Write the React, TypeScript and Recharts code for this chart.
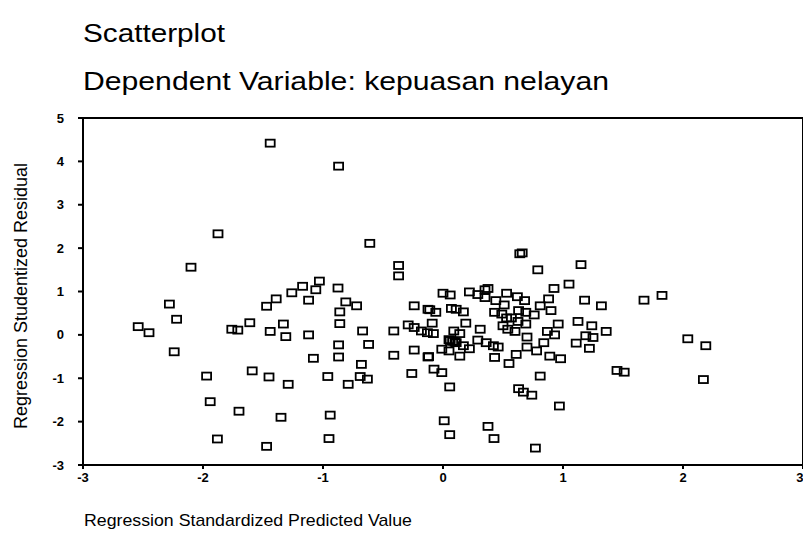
import { ScatterChart, Scatter, XAxis, YAxis, ReferenceLine } from 'recharts'

const xTicks = [-3, -2, -1, 0, 1, 2, 3]
const yTicks = [-3, -2, -1, 0, 1, 2, 3, 4, 5]

// Regression Standardized Predicted Value
const predicted = [
  -1.44, -0.87, -1.875, -2.1, -0.61, -0.37, -0.37, 0.64, 0.66, 1.15, 0.79,
  -2.28, -2.22, -2.54, -2.45, -2.24, -1.76, -1.71, -1.61, -1.59, -1.97, -1.94, -1.7, -1.88,
  -1.03, -1.17, -1.06, -0.875, -1.26, -1.39, -1.47, -1.12, -0.81, -0.72, -0.86, -0.24, -0.125,
  -1.33, -1.44, -1.31, -1.12, -0.86, -0.67, -0.41, -0.29, -0.24, -0.18, -0.87, -0.62,
  -1.08, -0.87, -0.41, -0.24, -0.125, -0.68, -1.45, -1.29, -0.96, -0.79, -0.69, -0.63, -0.26,
  -1.35, -0.94, -1.47, -0.95,
  1.05, 0.925, 0.375, 0.35, 0.22, 0.0, 0.06, 0.29, 0.35, 0.53, 0.62, 0.68, 0.44, 0.51, 0.88, 1.18,
  0.81, 0.9, -0.11, -0.06, 0.07, 0.11, 0.17, 0.43, 0.49, 0.63, 0.69, 0.76, 0.53, 0.57, 0.625, 0.69,
  0.5, 0.54, 0.6, 0.96, 1.125, 1.24, -0.09, 0.19, 0.31, -0.13, -0.08, 0.09, 0.14,
  0.06, 0.08, 0.1, 0.05, 0.11, 0.17, 0.29, 0.36, 0.42, 0.46, 0.22, -0.01, 0.05, 0.14, -0.12,
  0.43, 0.61, 0.55, 0.7, 0.7, 0.78, 0.84, 0.89, 0.98, 0.87, 0.93, 1.11, 1.19, 1.22,
  -0.075, -0.01, 0.056, 0.81, 0.63, 0.67, 0.74, 0.97, 0.01, 0.056, 0.375, 0.425, 0.77,
  1.32, 1.675, 1.825, 1.25, 1.36, 2.04, 2.19, 2.17, 1.45, 1.51,
]

// Regression Studentized Residual
const residual = [
  4.42, 3.89, 2.33, 1.56, 2.11, 1.6, 1.36, 1.87, 1.89, 1.62, 1.5,
  0.71, 0.36, 0.19, 0.05, -0.39, 0.13, 0.11, 0.28, -0.83, -0.95, -1.54, -1.76, -2.4,
  1.24, 1.12, 1.04, 1.08, 0.97, 0.83, 0.66, 0.8, 0.76, 0.67, 0.53, 0.67, 0.59,
  0.25, 0.08, -0.04, 0.0, 0.26, 0.09, 0.09, 0.23, 0.17, 0.09, -0.23, -0.22,
  -0.54, -0.51, -0.47, -0.35, -0.51, -0.68, -0.97, -1.14, -0.96, -1.14, -0.96, -1.02, -0.89,
  -1.9, -1.85, -2.57, -2.39,
  1.17, 1.07, 1.07, 1.04, 0.99, 0.96, 0.92, 0.93, 0.86, 0.96, 0.88, 0.79, 0.79, 0.69, 0.83, 0.8,
  0.67, 0.56, 0.58, 0.52, 0.61, 0.59, 0.53, 0.52, 0.48, 0.56, 0.52, 0.46, 0.39, 0.39, 0.31, 0.25,
  0.21, 0.13, 0.08, 0.25, 0.31, 0.21, 0.27, 0.27, 0.13, 0.05, 0.03, 0.09, 0.03,
  -0.13, -0.15, -0.17, -0.11, -0.18, -0.25, -0.12, -0.18, -0.25, -0.28, -0.32, -0.33, -0.37, -0.49, -0.5,
  -0.52, -0.45, -0.66, -0.05, -0.28, -0.37, -0.18, -0.49, -0.55, 0.08, 0.0, -0.19, -0.02, -0.31,
  -0.79, -0.87, -1.2, -0.95, -1.24, -1.32, -1.39, -1.64, -1.98, -2.3, -2.11, -2.39, -2.61,
  0.67, 0.8, 0.91, -0.06, 0.08, -0.09, -0.25, -1.03, -0.82, -0.86,
]

const points = predicted.map((x, i) => ({ x, y: residual[i] }))

const font = '"Liberation Sans", Arial, sans-serif'
const tickStyle = { fill: '#000', fontSize: 13, fontWeight: 700, fontFamily: font }

function Box(props: any) {
  const { cx, cy } = props
  return <rect x={cx - 4.5} y={cy - 3.5} width={9} height={7} fill="none" stroke="#000" strokeWidth={1.8} />
}

export default function App() {
  return (
    <div style={{ position: 'absolute', left: 0, top: 0, width: 803, height: 547, background: '#fff' }}>
      <ScatterChart width={803} height={547} margin={{ top: 118, right: 0, bottom: 52, left: 53 }}>
        <XAxis
          type="number"
          dataKey="x"
          domain={[-3, 3]}
          ticks={xTicks}
          height={30}
          axisLine={{ stroke: '#000', strokeWidth: 2 }}
          tickLine={{ stroke: '#000', strokeWidth: 2 }}
          tickSize={4}
          tickMargin={4}
          tick={tickStyle}
        />
        <YAxis
          type="number"
          dataKey="y"
          domain={[-3, 5]}
          ticks={yTicks}
          width={30}
          axisLine={{ stroke: '#000', strokeWidth: 2 }}
          tickLine={{ stroke: '#000', strokeWidth: 2 }}
          tickSize={5}
          tickMargin={14}
          tick={tickStyle}
        />
        <ReferenceLine y={5} stroke="#000" strokeWidth={2} ifOverflow="visible" />
        <ReferenceLine x={3} stroke="#000" strokeWidth={2} ifOverflow="visible" />
        <Scatter data={points} shape={<Box />} isAnimationActive={false} />
      </ScatterChart>
      <svg width={803} height={547} style={{ position: 'absolute', left: 0, top: 0, pointerEvents: 'none' }}>
        <text x={83} y={42} fontSize={26} fontFamily={font} textLength={142} lengthAdjust="spacingAndGlyphs">
          Scatterplot
        </text>
        <text x={83} y={90} fontSize={26} fontFamily={font} textLength={526} lengthAdjust="spacingAndGlyphs">
          Dependent Variable: kepuasan nelayan
        </text>
        <text x={84} y={526} fontSize={17} fontFamily={font} textLength={328} lengthAdjust="spacingAndGlyphs">
          Regression Standardized Predicted Value
        </text>
        <text
          x={0}
          y={0}
          fontSize={18}
          fontFamily={font}
          textAnchor="middle"
          transform="translate(27 296) rotate(-90)"
        >
          Regression Studentized Residual
        </text>
      </svg>
    </div>
  )
}
